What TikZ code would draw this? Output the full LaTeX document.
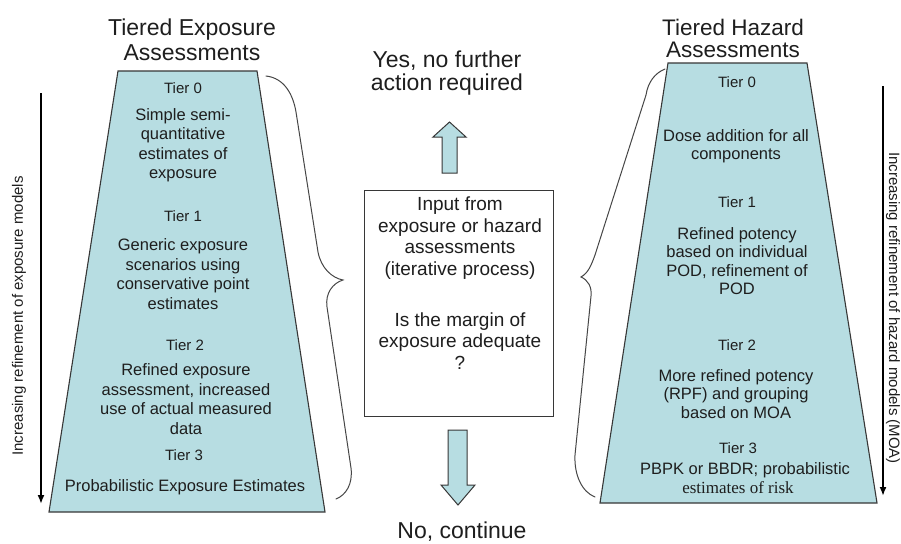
\documentclass[tikz,border=0pt]{standalone}
\usepackage{fontspec}
\setmainfont{Liberation Sans}
\newfontfamily\timesfont{Liberation Serif}
\usetikzlibrary{arrows.meta}
\definecolor{tealfill}{RGB}{183,221,226}
\definecolor{edgegray}{RGB}{55,55,55}
\definecolor{bracegray}{RGB}{70,70,70}
\definecolor{txt}{RGB}{30,30,30}
\begin{document}
\begin{tikzpicture}[x=1pt,y=-1pt,
  trap/.style={fill=tealfill, draw=edgegray, line width=1.1pt, line join=miter},
  tierlbl/.style={font=\fontsize{15}{18}\selectfont, text=txt, inner sep=0pt},
  lbody/.style={align=center, text=txt, inner sep=0pt, font=\fontsize{16.5}{19.5}\selectfont},
  rbody/.style={align=center, text=txt, inner sep=0pt, font=\fontsize{16.5}{18.5}\selectfont},
  titletxt/.style={align=center, text=txt, inner sep=0pt},
  boxtxt/.style={align=center, text=txt, inner sep=0pt, font=\fontsize{19}{21.5}\selectfont},
  sidelbl/.style={text=txt, inner sep=0pt, font=\fontsize{15}{18}\selectfont},
  brace/.style={draw=bracegray, line width=1pt, line cap=round},
  blockarrow/.style={fill=tealfill, draw=edgegray, line width=1pt, line join=miter},
  refarrow/.style={draw=black, line width=2.4pt, -{Latex[length=9pt,width=7pt]}}
]
\useasboundingbox[fill=white] (0,0) rectangle (901,543);

% ---------- left trapezoid ----------
\draw[trap] (118,71) coordinate (ltl) -- (257,71) coordinate (ltr) -- (325,512) coordinate (lbr) -- (49,512) coordinate (lbl) -- cycle;
\node[titletxt, font=\fontsize{23}{25}\selectfont] (ltitle) at (192,40) {Tiered Exposure\\Assessments};

\node[tierlbl] (l0) at (183,88) {Tier 0};
\node[lbody] (l0t) at (183,145) {Simple semi-\\quantitative\\estimates of\\exposure};
\node[tierlbl] (l1) at (183,216) {Tier 1};
\node[lbody] (l1t) at (183,274) {Generic exposure\\scenarios using\\conservative point\\estimates};
\node[tierlbl] (l2) at (185,345) {Tier 2};
\node[lbody] (l2t) at (186,399) {Refined exposure\\assessment, increased\\use of actual measured\\data};
\node[tierlbl] (l3) at (184,455) {Tier 3};
\node[lbody] (l3t) at (185,487) {Probabilistic Exposure Estimates};

% ---------- right trapezoid ----------
\draw[trap] (668,63) coordinate (rtl) -- (807,63) coordinate (rtr) -- (877,503) coordinate (rbr) -- (600,503) coordinate (rbl) -- cycle;
\node[titletxt, font=\fontsize{22.5}{22}\selectfont] (rtitle) at (733,38) {Tiered Hazard\\Assessments};

\node[tierlbl] (r0) at (737,82) {Tier 0};
\node[rbody] (r0t) at (736,146) {Dose addition for all\\components};
\node[tierlbl] (r1) at (737,202) {Tier 1};
\node[rbody] (r1t) at (737,261) {Refined potency\\based on individual\\POD, refinement of\\POD};
\node[tierlbl] (r2) at (737,345) {Tier 2};
\node[rbody] (r2t) at (736,394) {More refined potency\\(RPF) and grouping\\based on MOA};
\node[tierlbl] (r3) at (738,448) {Tier 3};
\node[rbody] (r3t) at (745,470) {PBPK or BBDR; probabilistic};
\node[text=txt, inner sep=0pt, font=\timesfont\fontsize{17}{19}\selectfont] (r3u) at (738,488) {estimates of risk};

% ---------- central box ----------
\node[draw=edgegray, line width=1pt, minimum width=189pt, minimum height=226pt, inner sep=0pt] (box) at (458.5,303) {};
\node[boxtxt] (boxa) at (460,238) {Input from\\exposure or hazard\\assessments\\(iterative process)};
\node[boxtxt] (boxb) at (460,341) {Is the margin of\\exposure adequate\\?};

\node[titletxt, font=\fontsize{23}{22.5}\selectfont] (yes) at (447,73) {Yes, no further\\action required};
\node[titletxt, font=\fontsize{23}{23}\selectfont, anchor=base] (no) at (462,538.5) {No, continue};

% up block arrow
\draw[blockarrow] (442,173) -- (442,137) -- (433,137) -- (449.5,122) coordinate (uptip) -- (466,137) -- (457,137) -- (457,173) -- cycle;
% down block arrow
\draw[blockarrow] (448,430) -- (467,430) -- (467,485) -- (475,485) -- (458,505) coordinate (dntip) -- (441,485) -- (448,485) -- cycle;

% ---------- braces ----------
\draw[brace] (266,76) .. controls (284,78) and (293,94) .. (296,112)
  -- (318,252) .. controls (321,268) and (332,278) .. (343,280)
  .. controls (333,283) and (325,293) .. (327,307)
  -- (351,468) .. controls (353,484) and (346,495) .. (336,499);
\draw[brace] (665,69) .. controls (655,73) and (648,82) .. (646,95)
  -- (595,255) .. controls (591,266) and (588,273) .. (581,277)
  .. controls (588,280) and (592,287) .. (591,296)
  -- (575,455) .. controls (574,475) and (582,492) .. (595,497);

% ---------- side arrows ----------
\coordinate (la1) at (41,93);
\coordinate (la2) at (41,504);
\draw[refarrow] (la1) -- (la2);
\node[sidelbl, rotate=90] (llbl) at (19,316) {Increasing refinement of exposure models};

\coordinate (ra1) at (883,86);
\coordinate (ra2) at (883,496);
\draw[refarrow] (ra1) -- (ra2);
\node[sidelbl, rotate=-90] (rlbl) at (893,308) {Increasing refinement of hazard models (MOA)};
\end{tikzpicture}
\end{document}
